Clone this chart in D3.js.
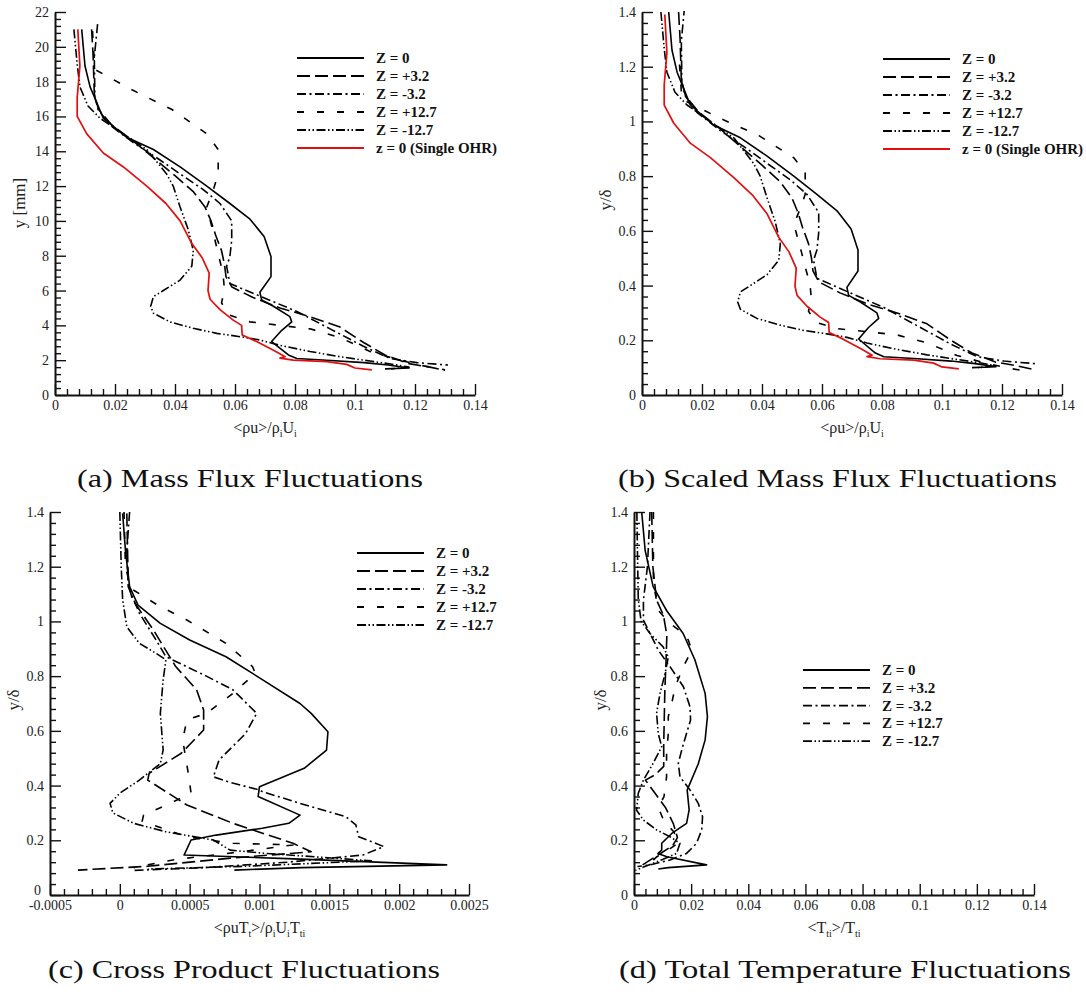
<!DOCTYPE html>
<html>
<head>
<meta charset="utf-8">
<script src="https://cdn.jsdelivr.net/npm/d3@7"></script>
<style>
  body { margin: 0; background: #fff; }
  svg { display: block; }
  text { font-family: "Liberation Serif", "Times New Roman", serif; }
</style>
</head>
<body>
<svg id="fig" width="1086" height="998"></svg>
<script>
// ---------------------------------------------------------------------------
// Station labels
const stationLabels = ["Z = 0", "Z = +3.2", "Z = -3.2", "Z = +12.7", "Z = -12.7"];
const singleLabel = "z = 0 (Single OHR)";

// Mass flux fluctuations <ρu>/ρiUi versus wall distance y [mm]
const massZ0 = [[0.0089,21.0],[0.0100,18.9],[0.0117,17.7],[0.0139,16.8],[0.0161,15.9],[0.0239,14.8],[0.0328,14.1],[0.0417,13.1],[0.0506,12.0],[0.0583,11.0],[0.0650,10.1],[0.0697,9.1],[0.0720,7.95],[0.0720,6.8],[0.0683,5.9],[0.0689,5.46],[0.0728,5.1],[0.0783,4.5],[0.0789,4.2],[0.0755,3.7],[0.0722,3.07],[0.0778,2.3],[0.0806,2.1],[0.0906,2.0],[0.1030,1.86],[0.1110,1.72],[0.1180,1.55],[0.1100,1.5]];
const massP32 = [[0.0122,21.0],[0.0127,19.5],[0.0131,17.3],[0.0145,16.4],[0.0190,15.5],[0.0260,14.6],[0.0330,13.6],[0.0400,12.6],[0.0460,11.7],[0.0500,10.8],[0.0520,10.0],[0.0535,9.2],[0.0555,8.3],[0.0565,7.5],[0.0570,6.8],[0.0590,6.2],[0.0660,5.6],[0.0750,5.0],[0.0850,4.5],[0.0950,3.9],[0.1030,3.0],[0.1100,2.3],[0.1180,1.8],[0.1250,1.6],[0.1300,1.42]];
const massM32 = [[0.0142,21.3],[0.0131,19.4],[0.0133,17.1],[0.0144,16.4],[0.0183,15.5],[0.0261,14.5],[0.0350,13.5],[0.0417,12.7],[0.0494,11.8],[0.0550,11.0],[0.0589,10.0],[0.0589,8.9],[0.0583,7.95],[0.0572,7.4],[0.0583,6.4],[0.0694,5.6],[0.0806,4.8],[0.0917,3.8],[0.1028,2.8],[0.1117,2.1],[0.1206,1.86],[0.1310,1.72]];
const massP127 = [[0.0125,20.9],[0.0130,19.5],[0.0133,18.7],[0.0260,17.5],[0.0390,16.4],[0.0506,15.0],[0.0544,14.1],[0.0544,12.7],[0.0528,11.8],[0.0506,10.8],[0.0528,9.3],[0.0544,8.1],[0.0560,7.0],[0.0565,6.0],[0.0555,5.3],[0.0580,4.6],[0.0650,4.2],[0.0750,4.0],[0.0850,3.8],[0.0950,3.3],[0.1050,2.5],[0.1150,2.0],[0.1220,1.7],[0.1300,1.45]];
const massM127 = [[0.0063,21.0],[0.0074,19.0],[0.0083,17.7],[0.0110,16.6],[0.0150,15.9],[0.0228,15.0],[0.0306,14.1],[0.0372,12.7],[0.0394,12.0],[0.0417,10.8],[0.0444,9.5],[0.0461,8.3],[0.0456,7.4],[0.0417,6.6],[0.0361,6.0],[0.0328,5.65],[0.0319,5.1],[0.0328,4.7],[0.0383,4.2],[0.0461,3.83],[0.0539,3.54],[0.0617,3.35],[0.0683,3.16],[0.0750,2.85],[0.0850,2.5],[0.0950,2.2],[0.1050,1.95],[0.1130,1.75],[0.1180,1.6],[0.1120,1.5]];
const massSingle = [[0.0076,21.0],[0.0083,18.9],[0.0074,17.1],[0.0074,16.0],[0.0106,15.0],[0.0161,13.9],[0.0228,13.1],[0.0306,12.0],[0.0370,11.0],[0.0417,10.0],[0.0456,8.7],[0.0490,7.9],[0.0514,7.0],[0.0510,6.0],[0.0517,5.5],[0.0550,4.9],[0.0594,4.3],[0.0622,4.0],[0.0624,3.45],[0.0672,3.07],[0.0730,2.55],[0.0767,2.2],[0.0750,2.12],[0.0794,2.0],[0.0906,1.92],[0.0972,1.76],[0.1000,1.55],[0.1056,1.44]];

// Boundary-layer thickness δ [mm] of each profile, used for y/δ
const deltaMm = [15.0, 15.0, 15.0, 17.3, 15.0];
const deltaSingle = 15.1;

// Cross product fluctuations <ρuTt>/ρiUiTti versus y/δ
const crossZ0 = [[0.00002,1.395],[0.00004,1.26],[0.00007,1.127],[0.00013,1.06],[0.00029,0.993],[0.00050,0.932],[0.00076,0.871],[0.00095,0.81],[0.00129,0.70],[0.00137,0.664],[0.00149,0.597],[0.00148,0.53],[0.00132,0.463],[0.00100,0.396],[0.00099,0.36],[0.00129,0.292],[0.00121,0.262],[0.00102,0.244],[0.00069,0.219],[0.00051,0.201],[0.00046,0.146],[0.00120,0.133],[0.00234,0.11],[0.00130,0.10],[0.00082,0.091]];
const crossP32 = [[0.00005,1.395],[0.00006,1.14],[0.00009,1.08],[0.00024,0.969],[0.00040,0.835],[0.00055,0.75],[0.00060,0.676],[0.00060,0.603],[0.00044,0.518],[0.00021,0.445],[0.00020,0.42],[0.00048,0.329],[0.00081,0.262],[0.00124,0.189],[0.00137,0.158],[0.00080,0.135],[0.00020,0.105],[-0.00030,0.091]];
const crossM32 = [[0.00007,1.40],[0.00005,1.26],[0.00006,1.127],[0.00014,1.03],[0.00026,0.932],[0.00033,0.871],[0.00062,0.80],[0.00081,0.75],[0.00098,0.664],[0.00090,0.59],[0.00071,0.493],[0.00067,0.432],[0.00080,0.41],[0.00100,0.384],[0.00102,0.378],[0.00129,0.335],[0.00162,0.286],[0.00169,0.256],[0.00171,0.213],[0.00189,0.177],[0.00174,0.146],[0.00120,0.12],[0.00060,0.10],[0.00010,0.09]];
const crossP127 = [[0.00003,1.40],[0.00004,1.20],[0.00008,1.12],[0.00027,1.06],[0.00048,1.005],[0.00076,0.92],[0.00095,0.835],[0.00097,0.81],[0.00081,0.737],[0.00062,0.664],[0.00048,0.64],[0.00045,0.567],[0.00049,0.445],[0.00051,0.372],[0.00036,0.335],[0.00017,0.292],[0.00016,0.27],[0.00048,0.213],[0.00081,0.189],[0.00124,0.183],[0.00090,0.16],[0.00040,0.13],[0.00010,0.10]];
const crossM127 = [[0.00000,1.40],[0.00001,1.20],[0.00002,1.08],[0.00005,0.98],[0.00014,0.92],[0.00026,0.883],[0.00033,0.86],[0.00031,0.786],[0.00029,0.664],[0.00031,0.53],[0.00029,0.48],[0.00014,0.42],[0.00000,0.372],[-0.00007,0.335],[-0.00005,0.30],[0.00010,0.262],[0.00033,0.231],[0.00067,0.201],[0.00079,0.164],[0.00105,0.152],[0.00180,0.125],[0.00090,0.105],[0.00020,0.095]];

// Total temperature fluctuations <Tti>/Tti versus y/δ
const tempZ0 = [[0.0027,1.40],[0.0039,1.26],[0.0067,1.127],[0.0114,1.04],[0.0172,0.956],[0.0213,0.86],[0.0249,0.737],[0.0257,0.652],[0.0249,0.567],[0.0225,0.48],[0.0196,0.408],[0.0186,0.384],[0.0193,0.311],[0.0184,0.262],[0.0132,0.225],[0.0097,0.189],[0.0097,0.164],[0.0084,0.152],[0.0115,0.14],[0.0254,0.11],[0.0120,0.10],[0.0085,0.095]];
const tempP32 = [[0.0062,1.40],[0.0066,1.20],[0.0079,1.078],[0.0103,1.023],[0.0115,0.95],[0.0112,0.85],[0.0108,0.75],[0.0106,0.65],[0.0104,0.55],[0.0104,0.47],[0.0075,0.44],[0.0040,0.42],[0.0075,0.37],[0.0110,0.32],[0.0138,0.26],[0.0152,0.21],[0.0135,0.18],[0.0090,0.15],[0.0045,0.12],[0.0015,0.10]];
const tempM32 = [[0.0056,1.40],[0.0047,1.20],[0.0033,1.078],[0.0033,1.005],[0.0085,0.895],[0.0126,0.835],[0.0173,0.761],[0.0196,0.688],[0.0198,0.64],[0.0184,0.591],[0.0167,0.53],[0.0155,0.481],[0.0161,0.432],[0.0196,0.384],[0.0225,0.335],[0.0240,0.286],[0.0237,0.238],[0.0219,0.189],[0.0184,0.152],[0.0126,0.128],[0.0056,0.11],[0.0012,0.104]];
const tempP127 = [[0.0068,1.40],[0.0068,1.14],[0.0085,1.04],[0.0126,0.993],[0.0173,0.956],[0.0190,0.932],[0.0202,0.895],[0.0173,0.835],[0.0144,0.761],[0.0132,0.70],[0.0120,0.652],[0.0120,0.59],[0.0114,0.518],[0.0114,0.432],[0.0105,0.36],[0.0085,0.32],[0.0105,0.27],[0.0140,0.23],[0.0155,0.19],[0.0120,0.165],[0.0080,0.14],[0.0040,0.10]];
const tempM127 = [[0.0010,1.40],[0.0013,1.20],[0.0015,1.08],[0.0025,1.00],[0.0056,0.956],[0.0102,0.907],[0.0120,0.87],[0.0109,0.81],[0.0091,0.737],[0.0079,0.664],[0.0085,0.59],[0.0097,0.542],[0.0067,0.481],[0.0033,0.42],[0.0015,0.372],[0.0009,0.31],[0.0033,0.274],[0.0079,0.238],[0.0126,0.213],[0.0161,0.189],[0.0149,0.152],[0.0100,0.13],[0.0040,0.105],[0.0005,0.09]];

// Tick labels
const fluxTicks = ["0","0.02","0.04","0.06","0.08","0.1","0.12","0.14"];
const mmTicks = ["0","2","4","6","8","10","12","14","16","18","20","22"];
const deltaTicks = ["0","0.2","0.4","0.6","0.8","1","1.2","1.4"];
const crossTicks = ["-0.0005","0","0.0005","0.001","0.0015","0.002","0.0025"];

// ---------------------------------------------------------------------------
// Line styles (Tecplot-like patterns)
const styles = [
  { dash: null },
  { dash: "13,5" },
  { dash: "9,3.5,2,3.5" },
  { dash: "7,13" },
  { dash: "9,2.5,1.5,2.5,1.5,2.5" }
];
const redColor = "#e01010";
const serif = '"Liberation Serif", "Times New Roman", serif';

const svg = d3.select("#fig");
svg.append("rect").attr("width", 1086).attr("height", 998).attr("fill", "#fff");

function ticksBetween(lo, step, count, every) {
  const out = [];
  for (let i = 0; i <= count; i++) if (i % every !== 0) out.push(lo + i * step);
  return out;
}

function styleAxis(sel) {
  sel.attr("font-family", null).attr("font-size", null);
  sel.select(".domain").attr("stroke", "#111").attr("stroke-width", 2);
  sel.selectAll(".tick line").attr("stroke", "#111").attr("stroke-width", 1.4);
  sel.selectAll(".tick text").attr("fill", "#222")
     .style("font-family", serif).style("font-size", "14px");
}

function addRich(g, parts, attrs) {
  const t = g.append("text").style("font-family", serif);
  Object.entries(attrs).forEach(([k, v]) => t.attr(k, v));
  let shifted = false;
  parts.forEach(([txt, sub]) => {
    const sp = t.append("tspan").text(txt);
    if (sub && !shifted) { sp.attr("dy", 4).attr("font-size", 10); shifted = true; }
    else if (sub) { sp.attr("font-size", 10); }
    else if (shifted) { sp.attr("dy", -4); shifted = false; }
  });
  return t;
}

function drawPanel(cfg) {
  const g = svg.append("g");
  const x = d3.scaleLinear().domain(cfg.xDomain).range([cfg.left, cfg.right]);
  const y = d3.scaleLinear().domain(cfg.yDomain).range([cfg.bottom, cfg.top]);

  const clipId = "clip-" + cfg.key;
  svg.append("clipPath").attr("id", clipId).append("rect")
    .attr("x", cfg.left).attr("y", cfg.top - 1)
    .attr("width", cfg.right - cfg.left + 4).attr("height", cfg.bottom - cfg.top + 1);

  // minor ticks
  g.append("g").attr("transform", `translate(0,${cfg.bottom})`)
    .call(d3.axisBottom(x).tickValues(cfg.xMinor).tickSizeInner(-6).tickSizeOuter(0).tickFormat(""))
    .call(s => { s.select(".domain").remove(); styleAxis(s); });
  g.append("g").attr("transform", `translate(${cfg.left},0)`)
    .call(d3.axisLeft(y).tickValues(cfg.yMinor).tickSizeInner(-6).tickSizeOuter(0).tickFormat(""))
    .call(s => { s.select(".domain").remove(); styleAxis(s); });

  // major ticks + axis lines
  g.append("g").attr("transform", `translate(0,${cfg.bottom})`)
    .call(d3.axisBottom(x).tickValues(cfg.xTicks.map(Number)).tickSizeInner(-11).tickSizeOuter(0)
      .tickPadding(5).tickFormat((d, i) => cfg.xTicks[i]))
    .call(styleAxis);
  const yAxis = g.append("g").attr("transform", `translate(${cfg.left},0)`)
    .call(d3.axisLeft(y).tickValues(cfg.yTicks.map(Number)).tickSizeInner(-11).tickSizeOuter(0)
      .tickPadding(6).tickFormat((d, i) => cfg.yTicks[i]))
    .call(styleAxis);
  if (cfg.raiseZero) {
    // the zero label sits above the first x label, as in the Tecplot layout
    yAxis.selectAll(".tick text").filter(d => d === 0).attr("dy", "-0.05em").attr("x", -9);
  }

  // profiles
  const line = d3.line().x(d => x(d[0])).y(d => y(d[1]));
  const curves = g.append("g").attr("clip-path", `url(#${clipId})`);
  cfg.series.forEach((s, i) => {
    const p = curves.append("path").attr("d", line(s)).attr("fill", "none")
      .attr("stroke", "#000").attr("stroke-width", 1.6).attr("stroke-linejoin", "round");
    if (styles[i].dash) p.attr("stroke-dasharray", styles[i].dash);
  });
  if (cfg.single) {
    curves.append("path").attr("d", line(cfg.single)).attr("fill", "none")
      .attr("stroke", redColor).attr("stroke-width", 1.7).attr("stroke-linejoin", "round");
  }

  // legend
  const lg = g.append("g");
  const labels = cfg.single ? stationLabels.concat([singleLabel]) : stationLabels;
  labels.forEach((lab, i) => {
    const yy = cfg.legend.y + i * cfg.legend.step;
    const ln = lg.append("line").attr("x1", cfg.legend.x).attr("x2", cfg.legend.x + 67)
      .attr("y1", yy).attr("y2", yy).attr("stroke-width", 1.8)
      .attr("stroke", i < 5 ? "#000" : redColor);
    if (i < 5 && styles[i].dash) ln.attr("stroke-dasharray", styles[i].dash);
    lg.append("text").attr("x", cfg.legend.x + 79).attr("y", yy + 5)
      .style("font-family", serif).style("font-size", "15px").style("font-weight", "bold")
      .attr("fill", "#111").text(lab);
  });

  // axis titles
  addRich(g, cfg.xTitle, { x: (cfg.left + cfg.right) / 2, y: cfg.bottom + 38,
    "text-anchor": "middle", "font-size": 16, fill: "#222" });
  g.append("text").attr("transform", `translate(${cfg.yTitleX},${cfg.yTitleY}) rotate(-90)`)
    .attr("text-anchor", "middle").style("font-family", serif).style("font-size", "17px")
    .attr("fill", "#222").text(cfg.yTitle);

  // caption
  g.append("text").attr("x", cfg.caption.x).attr("y", cfg.caption.y)
    .style("font-family", serif).style("font-size", "26px").attr("fill", "#111")
    .attr("textLength", cfg.caption.w).attr("lengthAdjust", "spacingAndGlyphs")
    .text(cfg.caption.text);
}

const massSeries = [massZ0, massP32, massM32, massP127, massM127];
const scaledSeries = massSeries.map((s, i) => s.map(d => [d[0], d[1] / deltaMm[i]]));
const scaledSingle = massSingle.map(d => [d[0], d[1] / deltaSingle]);

const fluxTitle = [["<ρu>/ρ", false], ["i", true], ["U", false], ["i", true]];

drawPanel({
  key: "a", left: 55, right: 475, top: 12, bottom: 395,
  xDomain: [0, 0.14], yDomain: [0, 22],
  xTicks: fluxTicks, yTicks: mmTicks,
  xMinor: ticksBetween(0, 0.004, 35, 5), yMinor: ticksBetween(0, 0.4, 55, 5),
  series: massSeries, single: massSingle,
  legend: { x: 297, y: 58, step: 18 },
  xTitle: fluxTitle, yTitle: "y [mm]", yTitleX: 25, yTitleY: 203,
  caption: { x: 77, y: 487, w: 346, text: "(a) Mass Flux Fluctuations" }
});

drawPanel({
  key: "b", left: 642, right: 1062, top: 12, bottom: 395,
  xDomain: [0, 0.14], yDomain: [0, 1.4],
  xTicks: fluxTicks, yTicks: deltaTicks,
  xMinor: ticksBetween(0, 0.004, 35, 5), yMinor: ticksBetween(0, 0.04, 35, 5),
  series: scaledSeries, single: scaledSingle,
  legend: { x: 883, y: 59, step: 18 },
  xTitle: fluxTitle, yTitle: "y/δ", yTitleX: 611, yTitleY: 200,
  caption: { x: 618, y: 487, w: 439, text: "(b) Scaled Mass Flux Fluctuations" }
});

drawPanel({
  key: "c", left: 50, right: 469, top: 512, bottom: 895, raiseZero: true,
  xDomain: [-0.0005, 0.0025], yDomain: [0, 1.4],
  xTicks: crossTicks, yTicks: deltaTicks,
  xMinor: ticksBetween(-0.0005, 0.0001, 30, 5), yMinor: ticksBetween(0, 0.04, 35, 5),
  series: [crossZ0, crossP32, crossM32, crossP127, crossM127],
  legend: { x: 357, y: 553, step: 18 },
  xTitle: [["<ρuT", false], ["t", true], [">/ρ", false], ["i", true], ["U", false], ["i", true], ["T", false], ["ti", true]],
  yTitle: "y/δ", yTitleX: 19, yTitleY: 700,
  caption: { x: 48, y: 978, w: 392, text: "(c) Cross Product Fluctuations" }
});

drawPanel({
  key: "d", left: 634, right: 1034, top: 512, bottom: 895,
  xDomain: [0, 0.14], yDomain: [0, 1.4],
  xTicks: fluxTicks, yTicks: deltaTicks,
  xMinor: ticksBetween(0, 0.004, 35, 5), yMinor: ticksBetween(0, 0.04, 35, 5),
  series: [tempZ0, tempP32, tempM32, tempP127, tempM127],
  legend: { x: 803, y: 670, step: 17.8 },
  xTitle: [["<T", false], ["ti", true], [">/T", false], ["ti", true]],
  yTitle: "y/δ", yTitleX: 606, yTitleY: 700,
  caption: { x: 619, y: 978, w: 452, text: "(d) Total Temperature Fluctuations" }
});
</script>
</body>
</html>
